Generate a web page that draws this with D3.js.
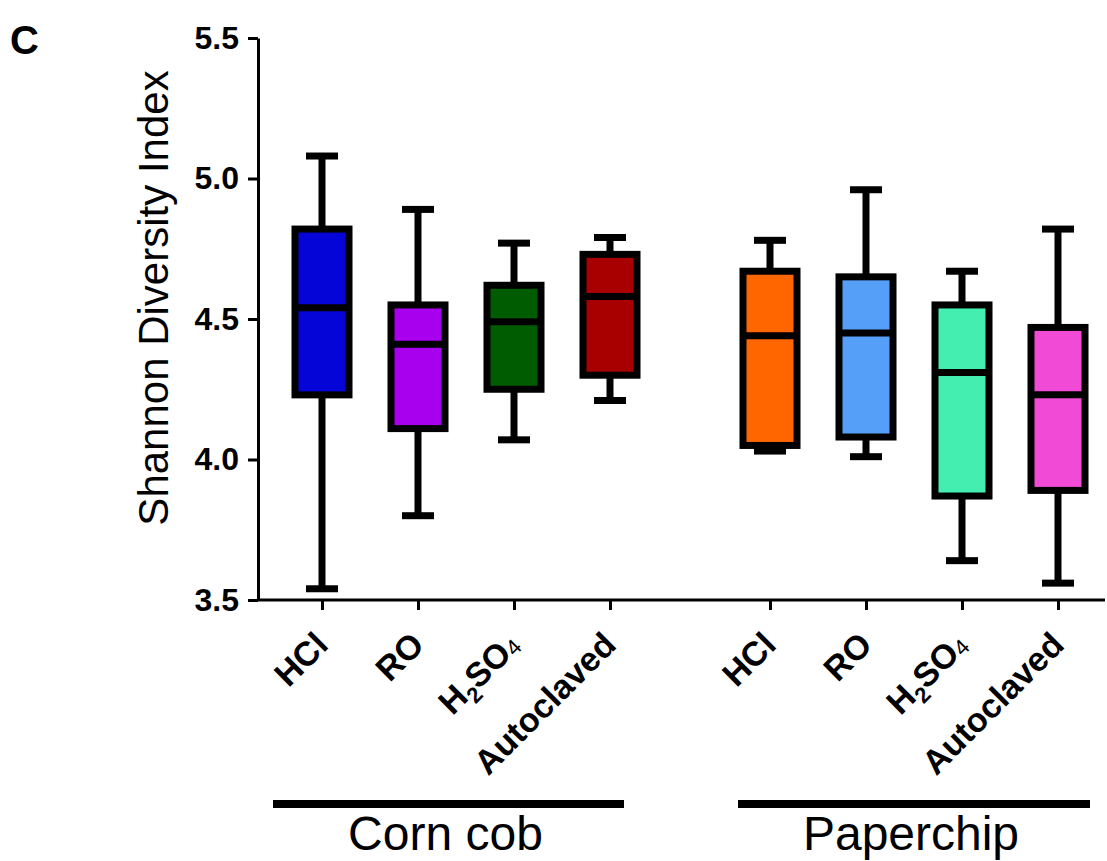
<!DOCTYPE html>
<html lang="en">
<head>
<meta charset="utf-8">
<title>Shannon Diversity Index box plot</title>
<script src="https://d3js.org/d3.v7.min.js"></script>
<style>
  body { margin: 0; background: #fff; }
  text { font-family: "Liberation Sans", Arial, Helvetica, sans-serif; }
</style>
</head>
<body>
<script>
// Data
var groups = ["Corn cob", "Paperchip"];
var treatments = ["HCl", "RO", "H2SO4", "Autoclaved"];
var fillColors = ["#0505d8", "#a800ee", "#005c00", "#a80000",
                  "#ff6600", "#559ff8", "#44eeb0", "#f04ad6"];
// min, q1, median, q3, max per box (Corn cob x4, then Paperchip x4)
var mins    = [3.54, 3.80, 4.07, 4.21, 4.03, 4.01, 3.64, 3.56];
var q1s     = [4.23, 4.11, 4.25, 4.30, 4.05, 4.08, 3.87, 3.89];
var medians = [4.54, 4.41, 4.49, 4.58, 4.44, 4.45, 4.31, 4.23];
var q3s     = [4.82, 4.55, 4.62, 4.73, 4.67, 4.65, 4.55, 4.47];
var maxs    = [5.08, 4.89, 4.77, 4.79, 4.78, 4.96, 4.67, 4.82];
var yTicks  = [3.5, 4.0, 4.5, 5.0, 5.5];

var w = 1107, h = 861;
var axisLeft = 258, axisRight = 1105, axisTop = 38, axisBottom = 600;
// how far each group bar reaches past its first / last tick
var barPad = [[49, 14], [32, 32]];

var svg = d3.select("body").append("svg")
    .attr("width", w)
    .attr("height", h);

var y = d3.scaleLinear().domain([3.5, 5.5]).range([axisBottom, axisTop]);

// outer scale for the two substrates, inner for the treatments
var x0 = d3.scaleBand().domain(groups).range([274, 1170]);
var x1 = d3.scalePoint().domain(treatments).range([48, 336]);

var boxes = [];
groups.forEach(function(g, gi) {
  treatments.forEach(function(t, ti) {
    var i = gi * treatments.length + ti;
    boxes.push({group: g, treat: t, min: mins[i], q1: q1s[i], med: medians[i],
                q3: q3s[i], max: maxs[i], color: fillColors[i]});
  });
});
function cx(d) { return x0(d.group) + x1(d.treat); }

var boxW = 54, capW = 32, lw = 7;

// y axis
var yAxis = svg.append("g")
    .attr("transform", "translate(" + axisLeft + ",0)")
    .call(d3.axisLeft(y).tickValues(yTicks).tickFormat(d3.format(".1f"))
          .tickSize(10).tickPadding(9).tickSizeOuter(0));
yAxis.select(".domain").attr("stroke-width", 3);
yAxis.selectAll(".tick line").attr("stroke-width", 3);
yAxis.selectAll(".tick text")
    .attr("font-size", 32).attr("font-weight", "bold").attr("fill", "#000")
    .attr("font-family", "'Liberation Sans', Arial, sans-serif");

// x axis baseline
svg.append("line")
    .attr("x1", axisLeft).attr("x2", axisRight)
    .attr("y1", axisBottom).attr("y2", axisBottom)
    .attr("stroke", "#000").attr("stroke-width", 3);

// x ticks and rotated labels per group
groups.forEach(function(g, gi) {
  var gx = svg.append("g")
      .attr("transform", "translate(" + x0(g) + "," + axisBottom + ")")
      .call(d3.axisBottom(x1).tickSize(10).tickSizeOuter(0).tickFormat(""));
  gx.select(".domain").remove();
  gx.selectAll(".tick line").attr("stroke-width", 3);

  treatments.forEach(function(t) {
    var lab = svg.append("text")
        .attr("transform", "translate(" + (x0(g) + x1(t) - 9) + "," + (axisBottom + 30) + ") rotate(-45)")
        .attr("text-anchor", "end")
        .attr("font-size", 34)
        .attr("font-weight", "bold")
        .attr("dy", "0.7em");
    if (t === "H2SO4") {
      lab.append("tspan").text("H");
      lab.append("tspan").attr("font-size", 22).attr("dy", 8).text("2");
      lab.append("tspan").attr("dy", -8).text("SO");
      lab.append("tspan").attr("font-size", 22).attr("font-weight", "normal").attr("dy", 2).text("4");
    } else {
      lab.text(t);
    }
  });

  // group bar and label
  var first = x0(g) + x1(treatments[0]), last = x0(g) + x1(treatments[treatments.length - 1]);
  var bx1 = first - barPad[gi][0], bx2 = last + barPad[gi][1];
  svg.append("line")
      .attr("x1", bx1).attr("x2", bx2)
      .attr("y1", 804).attr("y2", 804)
      .attr("stroke", "#000").attr("stroke-width", 8);
  svg.append("text")
      .attr("x", (bx1 + bx2) / 2 - 3)
      .attr("y", 850)
      .attr("text-anchor", "middle")
      .attr("font-size", 48)
      .text(g);
});

// whiskers
var bx = svg.append("g").selectAll("g").data(boxes).enter().append("g");
bx.append("line")
    .attr("x1", cx).attr("x2", cx)
    .attr("y1", function(d) { return y(d.max); })
    .attr("y2", function(d) { return y(d.min); })
    .attr("stroke", "#000").attr("stroke-width", lw);
bx.selectAll(".cap").data(function(d) { return [d.min, d.max].map(function(v) { return {v: v, d: d}; }); })
  .enter().append("line")
    .attr("class", "cap")
    .attr("x1", function(e) { return cx(e.d) - capW / 2; })
    .attr("x2", function(e) { return cx(e.d) + capW / 2; })
    .attr("y1", function(e) { return y(e.v); })
    .attr("y2", function(e) { return y(e.v); })
    .attr("stroke", "#000").attr("stroke-width", lw);
// boxes
bx.append("rect")
    .attr("x", function(d) { return cx(d) - boxW / 2; })
    .attr("width", boxW)
    .attr("y", function(d) { return y(d.q3); })
    .attr("height", function(d) { return y(d.q1) - y(d.q3); })
    .attr("fill", function(d) { return d.color; })
    .attr("stroke", "#000").attr("stroke-width", lw);
// medians
bx.append("line")
    .attr("x1", function(d) { return cx(d) - boxW / 2; })
    .attr("x2", function(d) { return cx(d) + boxW / 2; })
    .attr("y1", function(d) { return y(d.med); })
    .attr("y2", function(d) { return y(d.med); })
    .attr("stroke", "#000").attr("stroke-width", lw);

// y axis title
svg.append("text")
    .attr("transform", "translate(168,298) rotate(-90)")
    .attr("text-anchor", "middle")
    .attr("font-size", 42)
    .text("Shannon Diversity Index");

// panel letter
svg.append("text")
    .attr("x", 10).attr("y", 54)
    .attr("font-size", 40).attr("font-weight", "bold")
    .text("C");
</script>
</body>
</html>
